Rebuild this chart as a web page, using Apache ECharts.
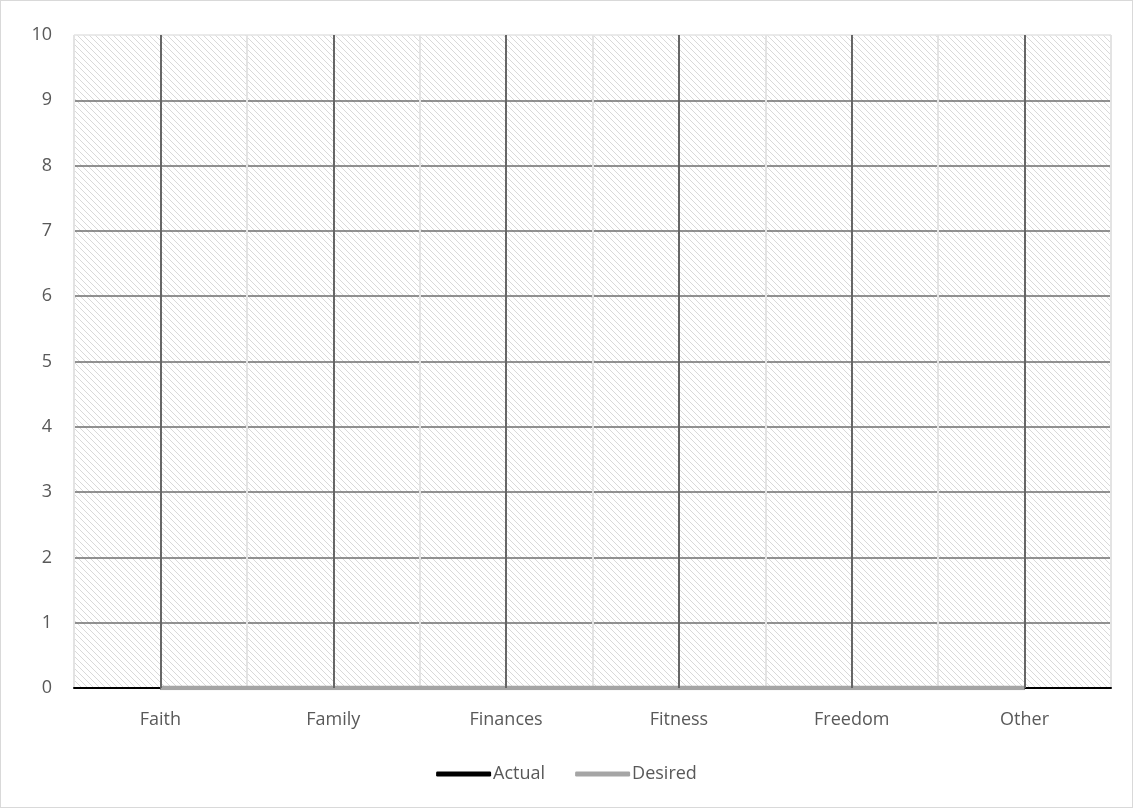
<!DOCTYPE html>
<html>
<head>
<meta charset="utf-8">
<script src="https://cdn.jsdelivr.net/npm/echarts@6/dist/echarts.min.js"></script>
<style>
  html, body { margin: 0; padding: 0; background: #fff; }
  #chart { width: 1131px; height: 806px; border: 1px solid #d9d9d9; }
</style>
</head>
<body>
<div id="chart"></div>
<script>
var categories = ['Faith', 'Family', 'Finances', 'Fitness', 'Freedom', 'Other'];
var actualValues = [0, 0, 0, 0, 0, 0];
var desiredValues = [0, 0, 0, 0, 0, 0];

// hatch pattern for the plot area
function makeHatch() {
    var c = document.createElement('canvas');
    c.width = 6;
    c.height = 6;
    var ctx = c.getContext('2d');
    ctx.fillStyle = '#ffffff';
    ctx.fillRect(0, 0, 6, 6);
    ctx.strokeStyle = '#d9d9d9';
    ctx.lineWidth = 1;
    ctx.beginPath();
    ctx.moveTo(-1, -1); ctx.lineTo(7, 7);
    ctx.moveTo(-4, 2); ctx.lineTo(4, 10);
    ctx.moveTo(2, -4); ctx.lineTo(10, 4);
    ctx.stroke();
    return c;
}

var myChart = echarts.init(document.getElementById('chart'));

var font = '"Open Sans", "Noto Sans", sans-serif';

// y 网格线: 0 处不画, 1-9 深色, 10 浅色
var yLineColors = ['rgba(0,0,0,0)'];
for (var i = 1; i < 10; i++) yLineColors.push('#6e6e6e');
yLineColors.push('#e3e3e3');

var option = {
    animation: false,
    grid: {
        left: 73, right: 21, top: 34, bottom: 119,
        show: true,
        borderWidth: 0,
        backgroundColor: { image: makeHatch(), repeat: 'repeat' }
    },
    legend: {
        bottom: 19,
        left: 'center',
        itemWidth: 55,
        itemHeight: 5,
        itemGap: 30,
        textStyle: { color: '#595959', fontSize: 18, fontFamily: font, padding: [0, 0, 0, -3] },
        data: [
            { name: 'Actual', icon: 'roundRect' },
            { name: 'Desired', icon: 'roundRect' }
        ]
    },
    xAxis: {
        type: 'category',
        data: categories,
        boundaryGap: true,
        axisLine: { show: true, lineStyle: { color: '#000', width: 2 } },
        axisTick: { show: false },
        axisLabel: { color: '#595959', fontSize: 18, fontFamily: font, margin: 23 },
        splitLine: { show: true, lineStyle: { color: '#e3e3e3', width: 2 } }
    },
    yAxis: {
        type: 'value',
        min: 0,
        max: 10,
        interval: 1,
        axisLine: { show: false },
        axisTick: { show: false },
        axisLabel: { color: '#595959', fontSize: 18, fontFamily: font, margin: 22 },
        splitLine: { show: true, lineStyle: { color: yLineColors, width: 1.5 } }
    },
    series: [
        {
            name: 'Actual',
            type: 'line',
            data: actualValues,
            symbol: 'none',
            color: '#000000',
            lineStyle: { color: '#000000', width: 4 },
            markLine: {
                silent: true,
                symbol: 'none',
                label: { show: false },
                lineStyle: { color: '#666666', width: 2, type: 'solid' },
                data: categories.map(function (c) { return { xAxis: c }; })
            }
        },
        {
            name: 'Desired',
            type: 'line',
            data: desiredValues,
            symbol: 'none',
            color: '#a5a5a5',
            lineStyle: { color: '#a5a5a5', width: 4.5 }
        }
    ]
};
myChart.setOption(option);
window.addEventListener('resize', function () {
    myChart.resize();
});
</script>
</body>
</html>
